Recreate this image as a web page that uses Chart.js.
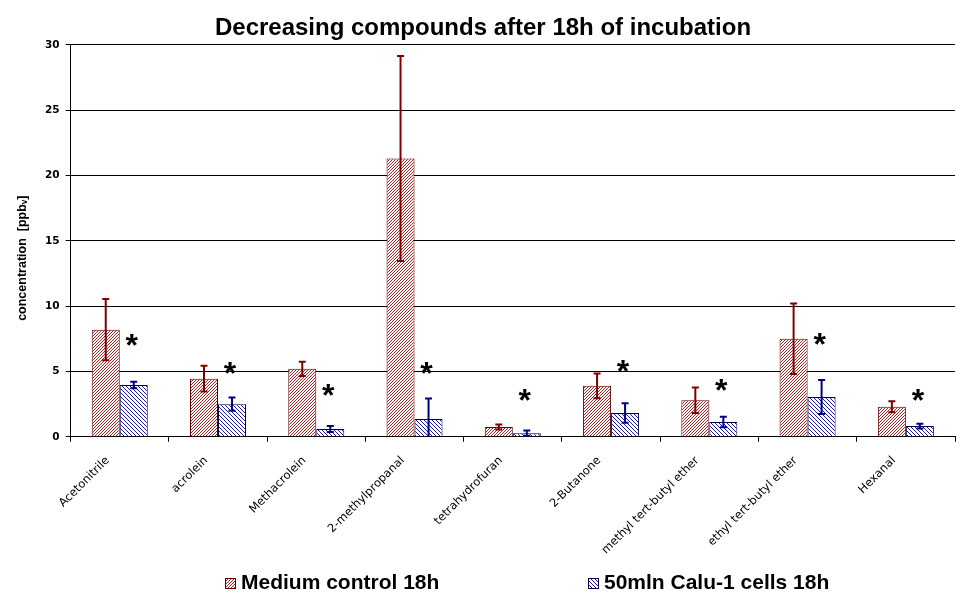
<!DOCTYPE html>
<html>
<head>
<meta charset="utf-8">
<script src="https://cdn.jsdelivr.net/npm/chart.js@4.4.1/dist/chart.umd.min.js"></script>
<style>
  html, body { margin: 0; padding: 0; background: #fff; }
  #wrap { width: 968px; height: 600px; }
</style>
</head>
<body>
<div id="wrap"><canvas id="chart"></canvas></div>
<script>
const compounds = ['Acetonitrile', 'acrolein', 'Methacrolein', '2-methylpropanal', 'tetrahydrofuran',
  '2-Butanone', 'methyl tert-butyl ether', 'ethyl tert-butyl ether', 'Hexanal'];
const controlMean = [8.2, 4.45, 5.2, 21.3, 0.75, 3.9, 2.8, 7.5, 2.3];
const controlErr = [2.35, 0.98, 0.55, 7.85, 0.2, 0.95, 0.97, 2.7, 0.42];
const cellsMean = [3.97, 2.5, 0.6, 1.36, 0.28, 1.82, 1.13, 3.05, 0.82];
const cellsErr = [0.25, 0.5, 0.23, 1.58, 0.2, 0.75, 0.4, 1.3, 0.18];
// height of the significance asterisk above each compound
const starLevel = [7.6, 5.4, 3.7, 5.4, 3.35, 5.58, 4.12, 7.65, 3.32];
const seriesNames = ['Medium control 18h', '50mln Calu-1 cells 18h'];

// crisp 1px diagonal hatch, drawn pixel by pixel
function hatch(color, size, rising) {
  const c = document.createElement('canvas');
  c.width = size; c.height = size;
  const g = c.getContext('2d');
  g.fillStyle = '#fff';
  g.fillRect(0, 0, size, size);
  g.fillStyle = color;
  for (let i = 0; i < size; i++) {
    g.fillRect(i, rising ? size - 1 - i : i, 1, 1);
  }
  return g.createPattern(c, 'repeat');
}

const redHatch = hatch('#a82828', 3, true);
const blueHatch = hatch('#1c1c9c', 4, false);

const errorBars = {
  id: 'errorBars',
  afterDatasetsDraw(chart) {
    const ctx = chart.ctx;
    const y = chart.scales.y;
    chart.data.datasets.forEach((ds, di) => {
      const meta = chart.getDatasetMeta(di);
      ctx.save();
      ctx.strokeStyle = ds.errColor;
      ctx.lineWidth = 2;
      meta.data.forEach((bar, i) => {
        const v = ds.data[i], e = ds.err[i];
        const top = y.getPixelForValue(v + e);
        const low = v - e;
        const bot = y.getPixelForValue(Math.max(0, low));
        ctx.beginPath();
        ctx.moveTo(bar.x, top); ctx.lineTo(bar.x, bot);
        ctx.moveTo(bar.x - 3.5, top); ctx.lineTo(bar.x + 3.5, top);
        if (low > 0) { ctx.moveTo(bar.x - 3.5, bot); ctx.lineTo(bar.x + 3.5, bot); }
        ctx.stroke();
      });
      ctx.restore();
    });
  }
};

const stars = {
  id: 'stars',
  afterDatasetsDraw(chart) {
    const ctx = chart.ctx;
    const y = chart.scales.y;
    const meta = chart.getDatasetMeta(1);
    ctx.save();
    ctx.fillStyle = '#000';
    ctx.font = 'bold 32px "Liberation Sans", Arial, sans-serif';
    ctx.textAlign = 'center';
    ctx.textBaseline = 'alphabetic';
    meta.data.forEach((bar, i) => {
      ctx.fillText('*', bar.x - 2, y.getPixelForValue(starLevel[i]) + 18);
    });
    ctx.restore();
  }
};

const bottomLegend = {
  id: 'bottomLegend',
  afterDraw(chart) {
    const ctx = chart.ctx;
    const items = chart.data.datasets;
    const starts = [225, 588];
    ctx.save();
    ctx.font = 'bold 21px "Liberation Sans", Arial, sans-serif';
    ctx.textBaseline = 'middle';
    items.forEach((ds, i) => {
      const x = starts[i], yc = 583;
      ctx.fillStyle = ds.backgroundColor;
      ctx.fillRect(x, yc - 5, 10, 10);
      ctx.strokeStyle = ds.borderColor;
      ctx.lineWidth = 1;
      ctx.strokeRect(x + 0.5, yc - 4.5, 10, 10);
      ctx.fillStyle = '#000';
      ctx.fillText(ds.label, x + 16, yc);
    });
    ctx.restore();
  }
};

new Chart(document.getElementById('chart'), {
  type: 'bar',
  data: {
    labels: compounds,
    datasets: [
      { label: seriesNames[0], data: controlMean, err: controlErr, errColor: '#800000',
        backgroundColor: redHatch, borderColor: '#5a0000', borderWidth: 1 },
      { label: seriesNames[1], data: cellsMean, err: cellsErr, errColor: '#000080',
        backgroundColor: blueHatch, borderColor: '#000040', borderWidth: 1 }
    ]
  },
  options: {
    responsive: true,
    maintainAspectRatio: false,
    animation: false,
    layout: { padding: { left: 11, right: 13, top: 0, bottom: 31 } },
    datasets: { bar: { categoryPercentage: 0.57, barPercentage: 1.0 } },
    plugins: {
      legend: { display: false },
      tooltip: { enabled: false },
      title: {
        display: true,
        text: 'Decreasing compounds after 18h of incubation',
        color: '#000',
        font: { family: '"Liberation Sans", Arial, sans-serif', size: 24, weight: 'bold' },
        padding: { top: 14, bottom: 2 }
      }
    },
    scales: {
      x: {
        grid: { display: true, drawOnChartArea: false, drawTicks: true, tickLength: 5, color: '#000', offset: true },
        border: { color: '#000', width: 1 },
        ticks: {
          color: '#000', maxRotation: 45, minRotation: 45, autoSkip: false,
          padding: 12, labelOffset: -12,
          font: { family: '"DejaVu Sans", Verdana, sans-serif', size: 11.5 }
        }
      },
      y: {
        min: 0, max: 30,
        grid: { color: '#000', lineWidth: 1, tickLength: 5 },
        border: { color: '#000', width: 1 },
        ticks: {
          stepSize: 5, color: '#000', padding: 6,
          font: { family: '"DejaVu Sans", Verdana, sans-serif', size: 10.5, weight: 'bold' }
        },
        title: {
          display: true,
          // trailing spaces push the rotated words a little below the middle, as in the original
          text: 'concentration  [ppb\u1D65]' + '\u00A0'.repeat(10),
          color: '#000',
          font: { family: '"Liberation Sans", Arial, sans-serif', size: 12.5, weight: 'bold' },
          padding: { top: 4, bottom: 9 }
        }
      }
    }
  },
  plugins: [errorBars, stars, bottomLegend]
});
</script>
</body>
</html>
